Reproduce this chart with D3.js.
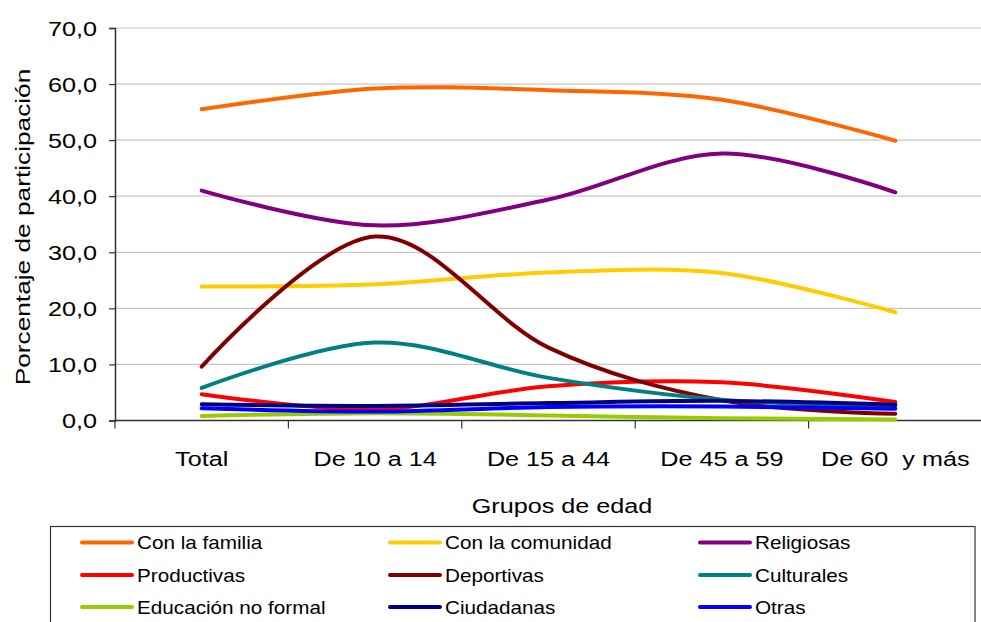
<!DOCTYPE html>
<html>
<head>
<meta charset="utf-8">
<script src="https://cdn.jsdelivr.net/npm/d3@7"></script>
<style>
  html, body { margin: 0; padding: 0; background: #fff; }
  svg { display: block; font-family: "Liberation Sans", Arial, sans-serif; }
</style>
</head>
<body>
<svg id="chart" width="981" height="622"></svg>
<script>
// ---- data ----
const categories = ["Total", "De 10 a 14", "De 15 a 44", "De 45 a 59", "De 60  y más"];
const seriesNames = ["Con la familia", "Con la comunidad", "Religiosas", "Productivas", "Deportivas", "Culturales", "Educación no formal", "Ciudadanas", "Otras"];
const conLaFamilia      = [55.5, 59.2, 58.9, 57.2, 49.9];
const conLaComunidad    = [23.9, 24.3, 26.4, 26.3, 19.3];
const religiosas        = [41.0, 34.8, 39.4, 47.6, 40.7];
const productivas       = [4.7, 2.0, 6.1, 6.8, 3.3];
const deportivas        = [9.6, 32.8, 13.0, 3.6, 1.2];
const culturales        = [5.8, 13.9, 7.6, 3.7, 2.6];
const educacionNoFormal = [0.8, 1.3, 0.9, 0.4, 0.2];
const ciudadanas        = [2.9, 2.6, 3.1, 3.5, 2.8];
const otras             = [2.2, 1.6, 2.4, 2.5, 2.1];
const yTicks = [0, 10, 20, 30, 40, 50, 60, 70];
const colors = ["#FF6600", "#FFCC00", "#800080", "#FF0000", "#800000", "#008080", "#99CC00", "#000080", "#0000FF"];

(function () {
const seriesValues = [conLaFamilia, conLaComunidad, religiosas, productivas, deportivas, culturales, educacionNoFormal, ciudadanas, otras];
const series = seriesNames.map((n, i) => ({ name: n, values: seriesValues[i], color: colors[i] }));

// ---- layout ----
const svg = d3.select("#chart");
const mLeft = 115, mRight = 982, mTop = 28, mBottom = 420.5;
const fmt = v => d3.format(".1f")(v).replace(".", ",");
const SX = 1.2; // horizontal text stretch of the original picture

const x = d3.scaleBand().domain(categories).range([mLeft, mRight]).padding(0);
const y = d3.scaleLinear().domain([0, 70]).range([mBottom, mTop]);

// gridlines
svg.append("g").selectAll("line").data(yTicks.filter(t => t > 0)).join("line")
  .attr("x1", mLeft).attr("x2", 981)
  .attr("y1", d => y(d)).attr("y2", d => y(d))
  .attr("stroke", "#c8c8c8").attr("stroke-width", 1.2);

// y axis
const yAxis = svg.append("g").attr("transform", `translate(${mLeft},0)`)
  .call(d3.axisLeft(y).tickValues(yTicks).tickSize(6).tickFormat(""));
yAxis.select(".domain").attr("stroke", "#333").attr("stroke-width", 1.5);
yAxis.selectAll(".tick line").attr("stroke", "#333").attr("stroke-width", 1.2);

svg.append("g").selectAll("text").data(yTicks).join("text")
  .attr("transform", d => `translate(97,${y(d) + 7.5}) scale(${SX},1)`)
  .attr("text-anchor", "end").attr("font-size", 21).attr("fill", "#000")
  .text(d => fmt(d));

// x axis
const xAxisG = svg.append("g").attr("transform", `translate(0,${mBottom})`);
xAxisG.append("line").attr("x1", mLeft).attr("x2", 981).attr("y1", 0).attr("y2", 0)
  .attr("stroke", "#333").attr("stroke-width", 1.5);
const bounds = categories.map(c => x(c)).concat([x(categories[categories.length - 1]) + x.bandwidth()]);
xAxisG.selectAll("line.tk").data(bounds).join("line").attr("class", "tk")
  .attr("x1", d => d).attr("x2", d => d).attr("y1", 0).attr("y2", 8)
  .attr("stroke", "#333").attr("stroke-width", 1.2);

svg.append("g").selectAll("text").data(categories).join("text")
  .attr("transform", d => `translate(${x(d) + x.bandwidth() / 2},466) scale(${SX},1)`)
  .attr("text-anchor", "middle").attr("font-size", 21).attr("fill", "#000")
  .style("white-space", "pre")
  .text(d => d);

// axis titles
svg.append("text")
  .attr("transform", `translate(562,513) scale(${SX},1)`)
  .attr("text-anchor", "middle").attr("font-size", 21).text("Grupos de edad");
svg.append("text")
  .attr("transform", `translate(30,227) rotate(-90) scale(1.25,1)`)
  .attr("text-anchor", "middle").attr("font-size", 21).text("Porcentaje de participación");

// lines
const line = d3.line()
  .x((d, i) => x(categories[i]) + x.bandwidth() / 2)
  .y(d => y(d))
  .curve(d3.curveCatmullRom.alpha(0));

svg.append("g").selectAll("path").data(series).join("path")
  .attr("d", d => line(d.values))
  .attr("fill", "none").attr("stroke", d => d.color)
  .attr("stroke-width", 4).attr("stroke-linejoin", "round").attr("stroke-linecap", "round");

// legend
const lg = svg.append("g");
lg.append("rect").attr("x", 50.5).attr("y", 526.5).attr("width", 924.5).attr("height", 120)
  .attr("fill", "#fff").attr("stroke", "#333").attr("stroke-width", 1.2);
const colX = [82, 390, 700];
const rowY = [542.5, 575, 607];
const items = lg.selectAll("g.item").data(series).join("g").attr("class", "item")
  .attr("transform", (d, i) => `translate(${colX[i % 3]},${rowY[Math.floor(i / 3)]})`);
items.append("line").attr("x1", 0).attr("x2", 50).attr("y1", 0).attr("y2", 0)
  .attr("stroke", d => d.color).attr("stroke-width", 4).attr("stroke-linecap", "round");
items.append("text").attr("transform", `translate(55,6.5) scale(1.15,1)`)
  .attr("font-size", 18).attr("fill", "#000").text(d => d.name);
})();
</script>
</body>
</html>
